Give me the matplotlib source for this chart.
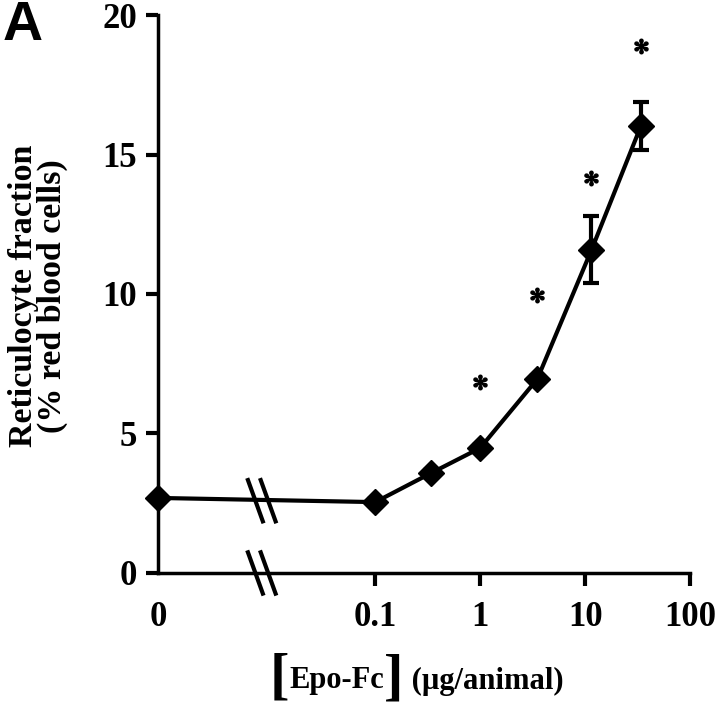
import matplotlib
matplotlib.use('Agg')
import matplotlib.pyplot as plt
from matplotlib.lines import Line2D

# data
doses = [0, 0.1, 0.34, 1.0, 3.5, 11.5, 34]          # ug/animal
retic = [2.69, 2.54, 3.58, 4.48, 6.95, 11.58, 16.02]  # % red blood cells
retic_err = [0.1, 0.1, 0.1, 0.1, 0.1, 1.2, 0.85]
star_doses = [1.0, 3.5, 11.5, 34]
star_y = [6.85, 9.96, 14.16, 18.9]

x_ticks = [0, 0.1, 1, 10, 100]
x_labels = ['0', '0.1', '1', '10', '100']
y_ticks = [0, 5, 10, 15, 20]

ZERO_POS = 8.5e-4   # where dose 0 sits on the broken log axis
BREAK_X = 0.195     # axes fraction of the axis break

plt.rcParams['font.family'] = ['Liberation Serif', 'DejaVu Serif']
plt.rcParams['font.weight'] = 'bold'
plt.rcParams['mathtext.fontset'] = 'stix'


def pos(d):
    return ZERO_POS if d == 0 else d


fig = plt.figure(figsize=(7.17, 7.19), dpi=100)
ax = fig.add_axes([0.2204, 0.2031, 0.742, 0.776])
ax.set_xscale('log')

xs = [pos(d) for d in doses]
ax.plot(xs, retic, color='black', lw=3, zorder=2, clip_on=False)
ax.errorbar(xs, retic, yerr=retic_err, fmt='none', ecolor='black',
            elinewidth=3, capsize=6, capthick=3, zorder=2)
ax.plot(xs, retic, ls='none', marker='D', ms=13.5, color='black', zorder=3,
        clip_on=False)
ax.plot(star_doses, star_y, ls='none', marker='$*$', ms=10.5, color='black')

ax.set_xlim(ZERO_POS, 100)
ax.set_ylim(0, 20)
ax.set_xticks([pos(t) for t in x_ticks])
ax.set_xticklabels(x_labels)
ax.minorticks_off()
ax.set_yticks(y_ticks)
ax.get_xaxis().get_major_ticks()[0].tick1line.set_visible(False)

for s in ['top', 'right']:
    ax.spines[s].set_visible(False)
for s in ['left', 'bottom']:
    ax.spines[s].set_linewidth(2.5)
ax.tick_params(axis='both', length=9, width=3, labelsize=25, direction='out')
ax.tick_params(axis='x', pad=11)
ax.tick_params(axis='y', pad=6)

# axis break marks (on the data line and on the x axis)
for yb in [retic[0] / 20.0 - 0.005, 0.0]:
    for dx in [-0.012, 0.012]:
        ln = Line2D([BREAK_X + dx - 0.014, BREAK_X + dx + 0.014],
                    [yb + 0.037, yb - 0.037], transform=ax.transAxes,
                    color='black', lw=3, clip_on=False)
        ax.add_line(ln)

fig.text(38 / 717, 1 - 296 / 719, 'Reticulocyte fraction\n(% red blood cells)',
         rotation=90, ha='center', va='center', fontsize=24.5,
         fontweight='bold', linespacing=0.92)

t1 = fig.text(270 / 717, 1 - 678 / 719, '[', fontsize=42, fontweight='bold',
              ha='left', va='center')
t2 = ax.annotate('Epo-Fc', xy=(1, 0.45), xycoords=t1, ha='left', va='center',
                 fontsize=22, fontweight='bold', annotation_clip=False)
t3 = ax.annotate(']', xy=(1, 0.55), xycoords=t2, ha='left', va='center',
                 fontsize=42, fontweight='bold', annotation_clip=False)
ax.annotate(' (\u00b5g/animal)', xy=(1, 0.45), xycoords=t3, ha='left',
            va='center', fontsize=22, fontweight='bold', annotation_clip=False)

fig.text(0.004, 1.0, 'A', fontsize=40, fontweight='bold',
         family='Liberation Sans', ha='left', va='top')

fig.savefig('out.png', dpi=100)
